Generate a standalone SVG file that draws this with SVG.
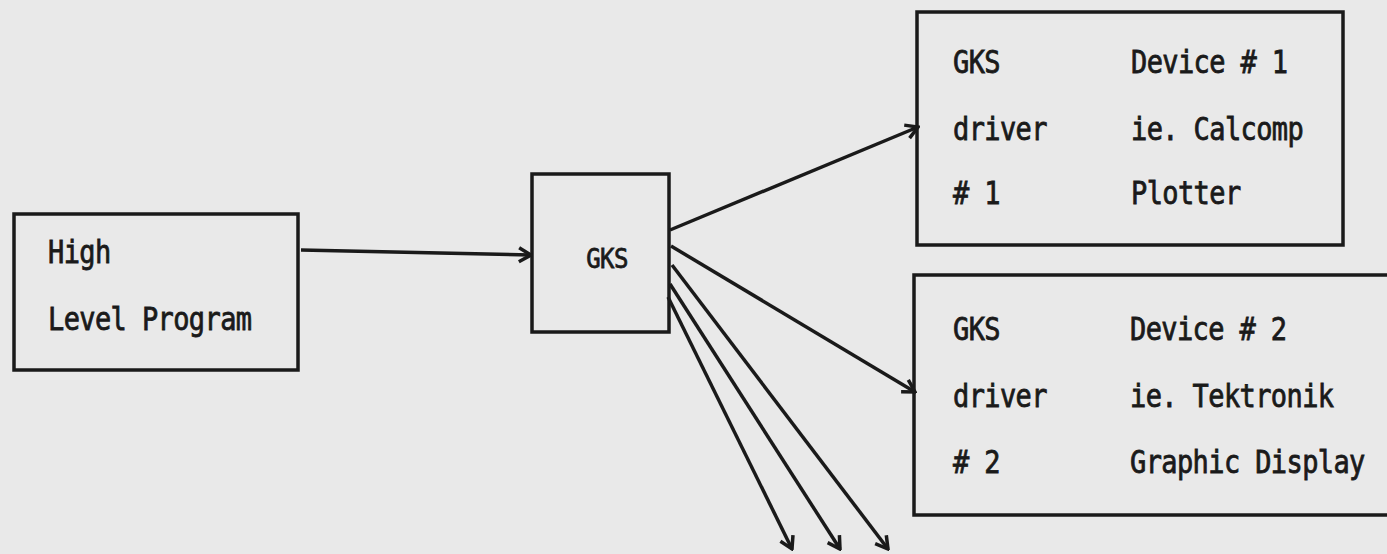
<svg xmlns="http://www.w3.org/2000/svg" width="1387" height="554" viewBox="0 0 1387 554">
<style>
.box{fill:none;stroke:#1a1a1a;stroke-width:3.5}
.t{font-family:"DejaVu Sans Mono","Liberation Mono",monospace;font-size:27px;fill:#1a1a1a;stroke:#1a1a1a;stroke-width:0.7;letter-spacing:-0.6px}
.c{fill:none;stroke:#1a1a1a;stroke-width:3.5;marker-end:url(#ah)}
</style>
<defs>
<marker id="ah" markerUnits="userSpaceOnUse" markerWidth="20" markerHeight="20" viewBox="0 0 20 20" refX="18" refY="10" orient="auto">
<path d="M6,3 L18,10 L6,17" fill="none" stroke="#1a1a1a" stroke-width="3.5"/>
</marker>
</defs>
<rect width="1387" height="554" fill="#e9e9e9"/>
<g id="high-level">
<rect class="box" x="14" y="214" width="284" height="156"/>
<text class="t" transform="translate(48,263) scale(1,1.17)">High</text>
<text class="t" transform="translate(48,330) scale(1,1.17)">Level Program</text>
</g>
<g id="gks">
<rect class="box" x="532" y="174" width="137" height="158"/>
<text class="t" text-anchor="middle" style="font-size:24px" transform="translate(607,268) scale(1,1.1)">GKS</text>
</g>
<g id="driver1">
<rect class="box" x="917" y="12" width="426" height="233"/>
<text class="t" transform="translate(953,73) scale(1,1.17)">GKS</text>
<text class="t" transform="translate(953,140) scale(1,1.17)">driver</text>
<text class="t" transform="translate(953,204) scale(1,1.17)"># 1</text>
<text class="t" transform="translate(1131,73) scale(1,1.17)">Device # 1</text>
<text class="t" transform="translate(1131,140) scale(1,1.17)">ie. Calcomp</text>
<text class="t" transform="translate(1131,204) scale(1,1.17)">Plotter</text>
</g>
<g id="driver2">
<rect class="box" x="914" y="275" width="500" height="240"/>
<text class="t" transform="translate(953,340) scale(1,1.17)">GKS</text>
<text class="t" transform="translate(953,407) scale(1,1.17)">driver</text>
<text class="t" transform="translate(953,473) scale(1,1.17)"># 2</text>
<text class="t" transform="translate(1130,340) scale(1,1.17)">Device # 2</text>
<text class="t" transform="translate(1130,407) scale(1,1.17)">ie. Tektronik</text>
<text class="t" transform="translate(1130,473) scale(1,1.17)">Graphic Display</text>
</g>
<g id="connectors">
<path class="c" d="M301,250 L531,255"/>
<path class="c" d="M670,230 L918,127"/>
<path class="c" d="M671,246 L915,392"/>
<path class="c" d="M672,265 L888,549"/>
<path class="c" d="M670,284 L840,549"/>
<path class="c" d="M668,297 L792,549"/>
</g>
</svg>
